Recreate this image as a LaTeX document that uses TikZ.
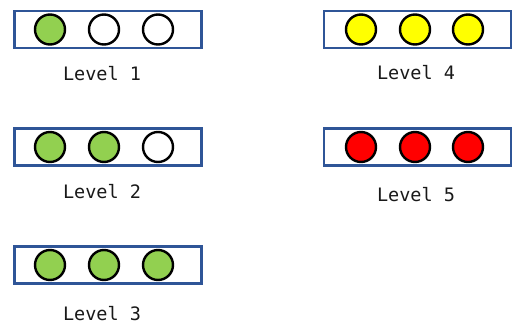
\documentclass[tikz,border=0pt]{standalone}
\usepackage{fontspec}
\setmonofont{DejaVu Sans Mono}
\definecolor{frameBlue}{RGB}{47, 85, 151}
\definecolor{lampGreen}{RGB}{146, 208, 80}
\definecolor{lampYellow}{RGB}{255, 255, 0}
\definecolor{lampRed}{RGB}{255, 0, 0}
\usetikzlibrary{positioning}

\begin{document}
\begin{tikzpicture}[x=1pt,y=-1pt,
                panel/.style={draw=frameBlue,line width=2.6pt,minimum width=187pt,minimum height=37pt,inner sep=0pt},
                lamp/.style={circle,draw=black,line width=2.4pt,minimum size=30pt,inner sep=0pt,fill=white},
                caption/.style={font=\ttfamily\fontsize{18.5}{22}\selectfont,text=black!90,inner sep=0pt}
            ]
                \useasboundingbox (0,0) rectangle (512,326);
                % level 1
                \node[panel] (box1) at (108,29.5) {};
                \node[lamp,fill=lampGreen] (l1a) at (50,29.5) {};
                \node[lamp] (l1b) at (104,29.5) {};
                \node[lamp] (l1c) at (158,29.5) {};
                \node[caption] (cap1) at (102,74) {Level 1};
                % level 2
                \node[panel] (box2) at (108,147) {};
                \node[lamp,fill=lampGreen] (l2a) at (50,147) {};
                \node[lamp,fill=lampGreen] (l2b) at (104,147) {};
                \node[lamp] (l2c) at (158,147) {};
                \node[caption] (cap2) at (102,192) {Level 2};
                % level 3
                \node[panel] (box3) at (108,265) {};
                \node[lamp,fill=lampGreen] (l3a) at (50,265) {};
                \node[lamp,fill=lampGreen] (l3b) at (104,265) {};
                \node[lamp,fill=lampGreen] (l3c) at (158,265) {};
                \node[caption] (cap3) at (102,314) {Level 3};
                % level 4
                \node[panel] (box4) at (417.5,29.5) {};
                \node[lamp,fill=lampYellow] (l4a) at (361,29.5) {};
                \node[lamp,fill=lampYellow] (l4b) at (415,29.5) {};
                \node[lamp,fill=lampYellow] (l4c) at (468,29.5) {};
                \node[caption] (cap4) at (416,73) {Level 4};
                % level 5
                \node[panel] (box5) at (417.5,147) {};
                \node[lamp,fill=lampRed] (l5a) at (361,147) {};
                \node[lamp,fill=lampRed] (l5b) at (415,147) {};
                \node[lamp,fill=lampRed] (l5c) at (468,147) {};
                \node[caption] (cap5) at (416,195) {Level 5};
            \end{tikzpicture}
\end{document}
